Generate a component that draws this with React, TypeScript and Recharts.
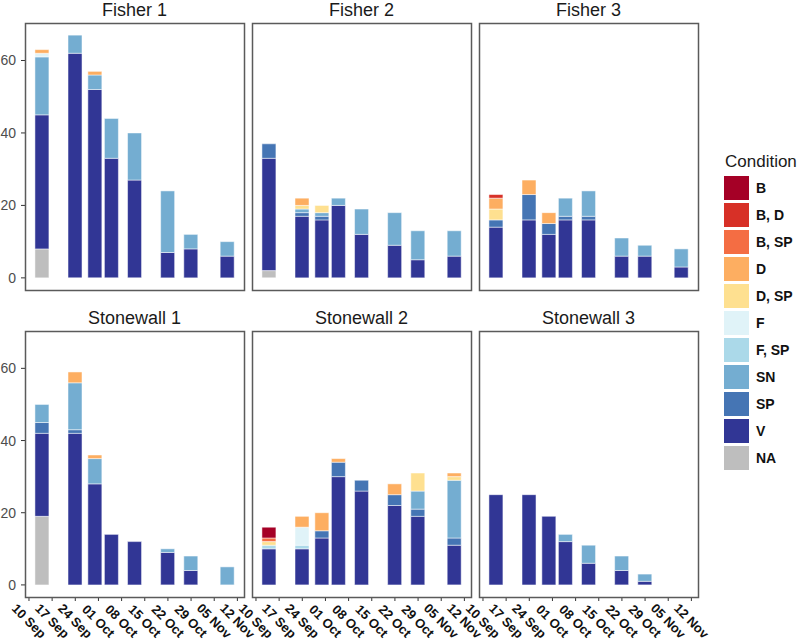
import React from 'react';
import { BarChart, Bar, XAxis, YAxis } from 'recharts';

// Condition categories, top of the stack first (legend order)
const conditions = ['B', 'B, D', 'B, SP', 'D', 'D, SP', 'F', 'F, SP', 'SN', 'SP', 'V', 'NA'];
const conditionColors = [
  '#A50026', '#D73027', '#F46D43', '#FDAE61', '#FEE090',
  '#E0F3F8', '#ABD9E9', '#74ADD1', '#4575B4', '#313695', '#BEBEBE',
];

// sampling dates as days after 10 Sep
const sampleDays = [4, 14, 20, 25, 32, 42, 49, 60];
const tickDays = [0, 7, 14, 21, 28, 35, 42, 49, 56, 63];
const tickLabels = ['10 Sep', '17 Sep', '24 Sep', '01 Oct', '08 Oct', '15 Oct', '22 Oct', '29 Oct', '05 Nov', '12 Nov'];
const yTicks = [0, 20, 40, 60];

// counts per condition, one value per sampling date
const fisher1: Record<string, number[]> = {
  NA: [8, 0, 0, 0, 0, 0, 0, 0],
  V: [37, 62, 52, 33, 27, 7, 8, 6],
  SN: [16, 5, 4, 11, 13, 17, 4, 4],
  F: [1, 0, 0, 0, 0, 0, 0, 0],
  D: [1, 0, 1, 0, 0, 0, 0, 0],
};
const fisher2: Record<string, number[]> = {
  NA: [2, 0, 0, 0, 0, 0, 0, 0],
  V: [31, 17, 16, 20, 12, 9, 5, 6],
  SP: [4, 1, 1, 0, 0, 0, 0, 0],
  SN: [0, 1, 1, 2, 7, 9, 8, 7],
  'D, SP': [0, 1, 2, 0, 0, 0, 0, 0],
  D: [0, 2, 0, 0, 0, 0, 0, 0],
};
const fisher3: Record<string, number[]> = {
  V: [14, 16, 12, 16, 16, 6, 6, 3],
  SP: [2, 7, 3, 1, 1, 0, 0, 0],
  SN: [0, 0, 0, 5, 7, 5, 3, 5],
  'D, SP': [3, 0, 0, 0, 0, 0, 0, 0],
  D: [3, 4, 3, 0, 0, 0, 0, 0],
  'B, D': [1, 0, 0, 0, 0, 0, 0, 0],
};
const stonewall1: Record<string, number[]> = {
  NA: [19, 0, 0, 0, 0, 0, 0, 0],
  V: [23, 42, 28, 14, 12, 9, 4, 0],
  SP: [3, 1, 0, 0, 0, 0, 0, 0],
  SN: [5, 13, 7, 0, 0, 1, 4, 5],
  D: [0, 3, 1, 0, 0, 0, 0, 0],
};
const stonewall2: Record<string, number[]> = {
  V: [10, 10, 13, 30, 26, 22, 19, 11],
  SP: [0, 0, 2, 4, 3, 3, 2, 2],
  SN: [0, 0, 0, 0, 0, 0, 5, 16],
  'F, SP': [1, 1, 0, 0, 0, 0, 0, 0],
  F: [0, 5, 0, 0, 0, 0, 0, 0],
  'D, SP': [1, 0, 0, 0, 0, 0, 5, 1],
  D: [0, 3, 5, 1, 0, 3, 0, 1],
  'B, SP': [1, 0, 0, 0, 0, 0, 0, 0],
  B: [3, 0, 0, 0, 0, 0, 0, 0],
};
const stonewall3: Record<string, number[]> = {
  V: [25, 25, 19, 12, 6, 4, 1, 0],
  SN: [0, 0, 0, 2, 5, 4, 2, 0],
};

const X_DOMAIN = [-1.2, 65];
const Y_DOMAIN = [-3.35, 70.35];
const Y_AXIS_W = 25;
const X_AXIS_H = 43;
const PANEL_W = 219;
const FONT = '"Liberation Sans", Arial, Helvetica, sans-serif';

const panels = [
  { title: 'Fisher 1', values: fisher1, left: 25, top: 23, height: 267, showY: true, showX: false },
  { title: 'Fisher 2', values: fisher2, left: 252, top: 23, height: 267, showY: false, showX: false },
  { title: 'Fisher 3', values: fisher3, left: 479, top: 23, height: 267, showY: false, showX: false },
  { title: 'Stonewall 1', values: stonewall1, left: 25, top: 331, height: 266, showY: true, showX: true },
  { title: 'Stonewall 2', values: stonewall2, left: 252, top: 331, height: 266, showY: false, showX: true },
  { title: 'Stonewall 3', values: stonewall3, left: 479, top: 331, height: 266, showY: false, showX: true },
];

function buildRows(values: Record<string, number[]>) {
  return sampleDays.map((day, i) => {
    const row: Record<string, number> = { day };
    conditions.forEach((c, k) => {
      row[`c${k}`] = values[c] ? values[c][i] : 0;
    });
    return row;
  });
}

// bottom of stack first
const stackOrder = conditions.map((_, k) => k).reverse();

const DateTick = (props: any) => {
  const { x, y, payload } = props;
  const label = tickLabels[tickDays.indexOf(payload.value)];
  return (
    <text
      transform={`translate(${x},${y + 18}) rotate(45)`}
      textAnchor="middle"
      dominantBaseline="central"
      fontSize={13}
      fontWeight="bold"
      fill="#111"
      fontFamily={FONT}
    >
      {label}
    </text>
  );
};

function Facet({ values, left, top, height, showY, showX }: any) {
  const rows = buildRows(values);
  const yw = showY ? Y_AXIS_W : 0;
  return (
    <div style={{ position: 'absolute', left: left - yw, top }}>
      <BarChart
        width={PANEL_W + yw}
        height={height + (showX ? X_AXIS_H : 0)}
        data={rows}
        margin={{ top: 0, right: 0, bottom: 0, left: 0 }}
        barSize={14}
      >
        <XAxis
          type="number"
          dataKey="day"
          domain={X_DOMAIN}
          ticks={tickDays}
          interval={0}
          allowDataOverflow
          hide={!showX}
          height={X_AXIS_H}
          axisLine={false}
          tickSize={4}
          tickLine={{ stroke: '#333' }}
          tick={(p: any) => <DateTick {...p} />}
        />
        <YAxis
          type="number"
          domain={Y_DOMAIN}
          ticks={yTicks}
          interval={0}
          allowDataOverflow
          hide={!showY}
          width={Y_AXIS_W}
          axisLine={false}
          tickSize={4}
          tickMargin={5}
          tickLine={{ stroke: '#333' }}
          tick={{ fill: '#4d4d4d', fontSize: 14, fontFamily: FONT }}
        />
        {stackOrder.map((k) => (
          <Bar
            key={conditions[k]}
            dataKey={`c${k}`}
            name={conditions[k]}
            stackId="a"
            fill={conditionColors[k]}
            stroke="#ffffff"
            strokeWidth={0.5}
            isAnimationActive={false}
          />
        ))}
      </BarChart>
    </div>
  );
}

export default function App() {
  return (
    <div
      style={{
        position: 'absolute',
        left: 0,
        top: 0,
        width: 797,
        height: 640,
        background: '#fff',
        fontFamily: FONT,
        overflow: 'hidden',
      }}
    >
      <style>{'.recharts-surface { overflow: visible; } .recharts-wrapper { overflow: visible; }'}</style>
      {panels.map((p) => (
        <Facet key={p.title} {...p} />
      ))}
      <svg
        width={797}
        height={640}
        style={{ position: 'absolute', left: 0, top: 0, pointerEvents: 'none' }}
      >
        {panels.map((p) => (
          <g key={p.title}>
            <rect
              x={p.left + 0.5}
              y={p.top + 0.5}
              width={PANEL_W}
              height={p.height}
              fill="none"
              stroke="#5a5a5a"
              strokeWidth={1.5}
            />
            <text
              x={p.left + PANEL_W / 2}
              y={p.top - 7}
              textAnchor="middle"
              fontSize={18}
              fill="#1a1a1a"
              fontFamily={FONT}
            >
              {p.title}
            </text>
          </g>
        ))}
        {/* legend */}
        <text x={725} y={167} fontSize={17} fill="#1a1a1a" fontFamily={FONT}>
          Condition
        </text>
        {conditions.map((c, i) => (
          <g key={c}>
            <rect x={724} y={176 + 27 * i} width={25} height={24} fill={conditionColors[i]} />
            <text
              x={756}
              y={176 + 27 * i + 12}
              dominantBaseline="central"
              fontSize={14}
              fontWeight="bold"
              fill="#111"
              fontFamily={FONT}
            >
              {c}
            </text>
          </g>
        ))}
      </svg>
    </div>
  );
}
